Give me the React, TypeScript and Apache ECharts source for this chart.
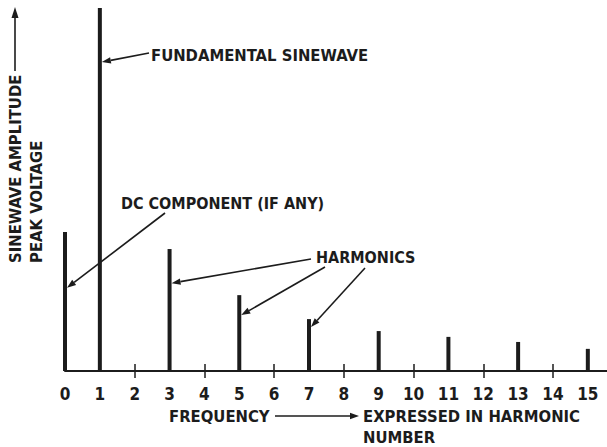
import React, { useEffect, useRef } from "react";
import * as echarts from "echarts";

const harmonicNumbers = [0, 1, 3, 5, 7, 9, 11, 13, 15];
const amplitudes = [0.383, 1.0, 0.336, 0.209, 0.143, 0.11, 0.094, 0.08, 0.061];
const tickLabels = ["0", "1", "2", "3", "4", "5", "6", "7", "8", "9", "10", "11", "12", "13", "14", "15"];
const crossTicks = [2, 4, 6, 8, 10, 12, 14];

const INK = "#1c1c1c";
const FONT = '"Liberation Sans Narrow", "DejaVu Sans Condensed", "Arial Narrow", sans-serif';

function arrow(x1: number, y1: number, x2: number, y2: number, head = 9, half = 3.2) {
  const dx = x2 - x1;
  const dy = y2 - y1;
  const len = Math.sqrt(dx * dx + dy * dy);
  const ux = dx / len;
  const uy = dy / len;
  const bx = x2 - ux * head;
  const by = y2 - uy * head;
  const px = -uy * half;
  const py = ux * half;
  return [
    { type: "line", shape: { x1, y1, x2: bx, y2: by }, style: { stroke: INK, lineWidth: 1.6 }, silent: true },
    {
      type: "polygon",
      shape: { points: [[x2, y2], [bx + px, by + py], [bx - px, by - py]] },
      style: { fill: INK },
      silent: true,
    },
  ];
}

function label(text: string, x: number, y: number, size = 16.5, extra: any = {}) {
  return {
    type: "text",
    x,
    y,
    ...extra,
    style: {
      text,
      x: 0,
      y: 0,
      fill: INK,
      font: `bold ${size}px ${FONT}`,
      textAlign: "left",
      textVerticalAlign: "middle",
    },
    silent: true,
  };
}

export default function App() {
  const ref = useRef<HTMLDivElement>(null);
  useEffect(() => {
    if (!ref.current) return;
    const chart = echarts.init(ref.current, null, { renderer: "svg" });
    const axisCommon = {
      type: "value",
      min: 0,
      max: 15.55,
      splitLine: { show: false },
    };
    chart.setOption({
      animation: false,
      backgroundColor: "#ffffff",
      grid: { left: 65, right: 0, top: 8, bottom: 76 },
      xAxis: [
        {
          ...axisCommon,
          axisLine: { show: true, lineStyle: { color: INK, width: 2 } },
          axisTick: {
            show: true,
            inside: false,
            length: 7,
            customValues: crossTicks,
            lineStyle: { color: INK, width: 1.5 },
          },
          axisLabel: {
            show: true,
            customValues: tickLabels.map((t) => Number(t)),
            formatter: (v: number) => tickLabels[Math.round(v)] ?? "",
            margin: 14,
            color: INK,
            fontFamily: FONT,
            fontWeight: "bold",
            fontSize: 17,
          },
        },
        {
          ...axisCommon,
          axisLine: { show: false },
          axisTick: {
            show: true,
            inside: true,
            length: 7,
            customValues: crossTicks,
            lineStyle: { color: INK, width: 1.5 },
          },
          axisLabel: { show: false },
          position: "bottom",
        },
      ],
      yAxis: { type: "value", min: 0, max: 1, show: false },
      series: [
        {
          type: "bar",
          xAxisIndex: 0,
          barWidth: 4,
          itemStyle: { color: INK },
          data: harmonicNumbers.map((h, i) => [h, amplitudes[i]]),
        },
      ],
    });

    const p = (x: number, y: number) => chart.convertToPixel({ xAxisIndex: 0, yAxisIndex: 0 }, [x, y]) as number[];
    const fund = p(1, 0.851);
    const dc = p(0, 0.229);
    const h3 = p(3, 0.242);
    const h5 = p(5, 0.154);
    const h7 = p(7, 0.121);

    chart.setOption({
      graphic: [
        // y axis title
        label("SINEWAVE AMPLITUDE", 15, 263, 16.5, { rotation: Math.PI / 2 }),
        ...arrow(15, 71, 15, 7, 11, 3.5),
        label("PEAK VOLTAGE", 36, 263, 16.5, { rotation: Math.PI / 2 }),
        // x axis title
        label("FREQUENCY", 169, 416),
        ...arrow(275, 416, 359, 416),
        label("EXPRESSED IN HARMONIC", 363, 416),
        label("NUMBER", 363, 437),
        // annotations
        label("FUNDAMENTAL SINEWAVE", 151, 55),
        ...arrow(149, 53, fund[0] + 2, fund[1]),
        label("DC COMPONENT (IF ANY)", 121, 203, 16),
        ...arrow(165, 213, dc[0] + 2, dc[1]),
        label("HARMONICS", 316, 257, 16),
        ...arrow(311, 259, h3[0] + 2, h3[1]),
        ...arrow(325, 267, h5[0] + 2, h5[1]),
        ...arrow(365, 268, h7[0] + 2, h7[1]),
      ],
    });
    return () => chart.dispose();
  }, []);
  return (
    <div
      ref={ref}
      style={{ position: "absolute", left: 0, top: 0, width: 607, height: 447, background: "#fff" }}
    />
  );
}
